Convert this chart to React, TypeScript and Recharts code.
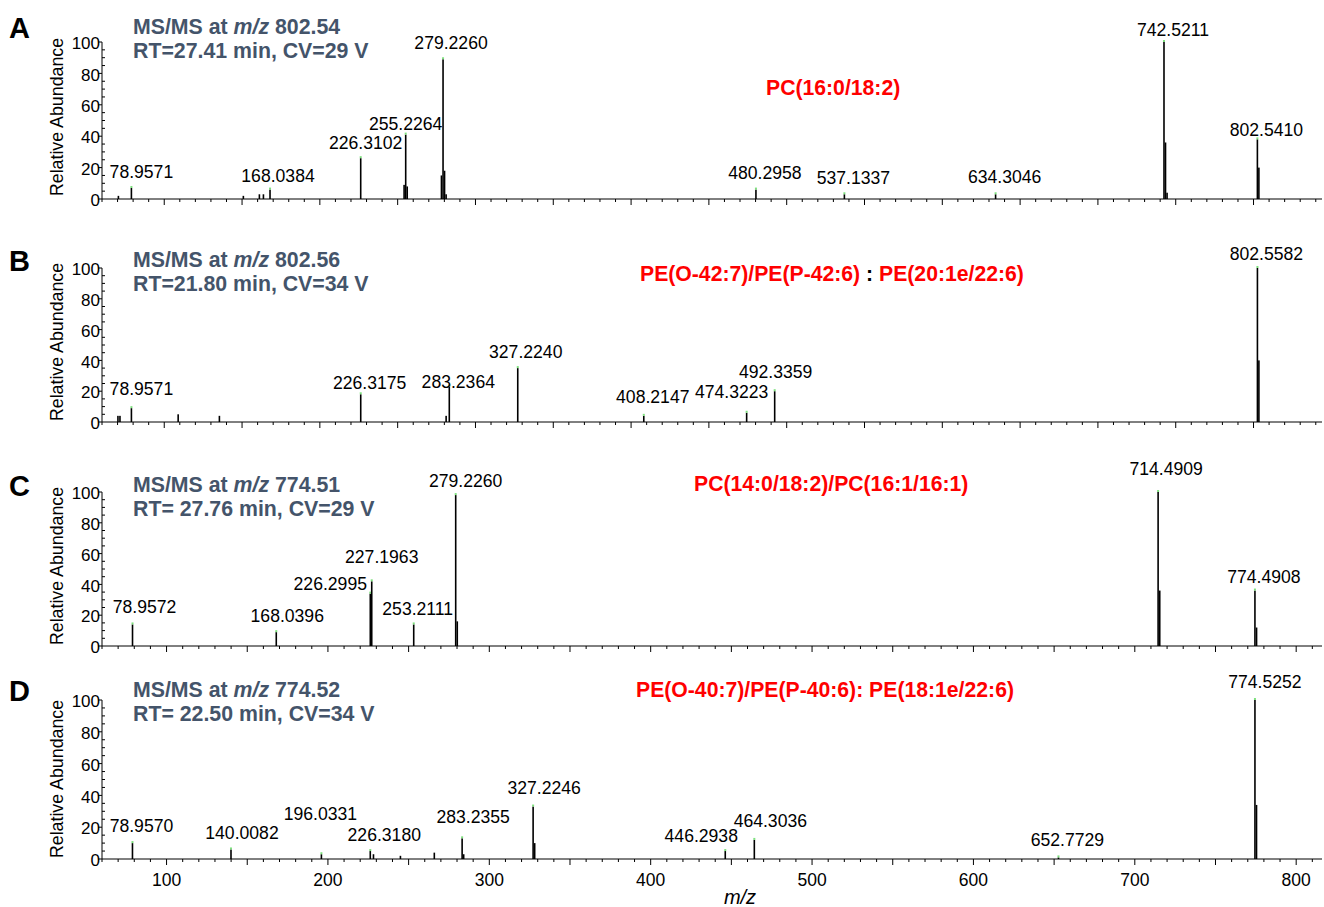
import React from 'react'
import { BarChart, Bar, XAxis, YAxis } from 'recharts'

// MS/MS spectra, each peak is [m/z, relative abundance]
const peaksA: [number, number][] = [
    [70.6, 2], [78.9571, 7], [150.9, 2], [161.2, 3], [163.8, 3], [168.0384, 6],
    [226.3102, 26], [254.2, 9], [255.2264, 41], [256.2, 8],
    [278.2, 15], [279.2260, 89], [280.2, 18], [281.2, 3],
    [480.2958, 6], [537.1337, 3], [634.3046, 3],
    [742.5211, 100], [743.5, 36], [744.5, 4], [802.5410, 38], [803.5, 20],
]
const labelsA = [78.9571, 168.0384, 226.3102, 255.2264, 279.2260, 480.2958, 537.1337, 634.3046, 742.5211, 802.5410]

const peaksB: [number, number][] = [
    [70.3, 4], [71.6, 4], [78.9571, 9], [109.0, 5], [135.5, 4],
    [226.3175, 18], [281.2, 4], [283.2364, 23], [327.2240, 35],
    [408.2147, 4], [474.3223, 6], [492.3359, 20],
    [802.5582, 100], [803.5, 40],
]
const labelsB = [78.9571, 226.3175, 283.2364, 327.2240, 408.2147, 474.3223, 492.3359, 802.5582]

const peaksC: [number, number][] = [
    [78.9572, 14], [168.0396, 9], [226.2995, 34], [227.1963, 42], [253.2111, 14],
    [279.2260, 98], [280.2, 16], [714.4909, 100], [715.5, 36],
    [774.4908, 36], [775.5, 12],
]
const labelsC = [78.9572, 168.0396, 226.2995, 227.1963, 253.2111, 279.2260, 714.4909, 774.4908]

const peaksD: [number, number][] = [
    [78.9570, 10], [140.0082, 6], [196.0331, 3], [226.3180, 5], [228.3, 3],
    [245.0, 2], [266.0, 4], [283.2355, 13], [284.2, 3],
    [327.2246, 33], [328.2, 10], [446.2938, 5], [464.3036, 12],
    [652.7729, 1], [774.5252, 100], [775.5, 34],
]
const labelsD = [78.9570, 140.0082, 196.0331, 226.3180, 283.2355, 327.2246, 446.2938, 464.3036, 652.7729, 774.5252]

// label placement: [dx from peak, gap above peak top]
const nudgeA: Record<string, [number, number]> = {
    '78.9571': [10, 10], '168.0384': [8, 8], '226.3102': [5, 9], '255.2264': [0, 5],
    '279.226': [8, 10], '480.2958': [9, 11], '537.1337': [9, 10], '634.3046': [9, 11],
    '742.5211': [9, 6], '802.541': [9, 3],
}
const nudgeB: Record<string, [number, number]> = {
    '78.9571': [10, 13], '226.3175': [9, 5], '283.2364': [9, -1], '327.224': [8, 10],
    '408.2147': [9, 13], '474.3223': [-15, 15], '492.3359': [1, 13], '802.5582': [9, 8],
}
const nudgeC: Record<string, [number, number]> = {
    '78.9572': [12, 11], '168.0396': [11, 10], '226.2995': [-40, 4], '227.1963': [10, 18],
    '253.2111': [4, 9], '279.226': [10, 8], '714.4909': [8, 17], '774.4908': [9, 8],
}
const nudgeD: Record<string, [number, number]> = {
    '78.957': [9, 11], '140.0082': [11, 10], '196.0331': [-1, 34], '226.318': [14, 10],
    '283.2355': [11, 15], '327.2246': [11, 13], '446.2938': [-24, 9], '464.3036': [16, 13],
    '652.7729': [9, 11], '774.5252': [10, 12],
}

const yTicks = [0, 5, 10, 15, 20, 25, 30, 35, 40, 45, 50, 55, 60, 65, 70, 75, 80, 85, 90, 95, 100]

const FONT = '"Liberation Sans", Arial, Helvetica, sans-serif'
const SLATE = '#44546a'
const RED = '#ff0000'

const XTick = ({ x, y, payload, showLabel }: any) => {
    const v = payload.value
    const major = v % 50 === 0
    return (
        <g>
            <line x1={x} x2={x} y1={y} y2={y + (major ? 6 : 3)} stroke="#000" strokeWidth={1} />
            {showLabel && v % 100 === 0 && (
                <text x={x} y={y + 27} textAnchor="middle" fontSize={17.5} fontFamily={FONT} fill="#000">{v}</text>
            )}
        </g>
    )
}

const YTick = ({ x, y, payload }: any) => {
    const v = payload.value
    const major = v % 20 === 0
    return (
        <g>
            {major
                ? <line x1={x - 4} x2={x} y1={y} y2={y} stroke="#000" />
                : <line x1={x} x2={x + 3} y1={y} y2={y} stroke="#000" />}
            {major && (
                <text x={x - 2} y={y} dy="0.42em" textAnchor="end" fontSize={17} fontFamily={FONT} fill="#000">{v}</text>
            )}
        </g>
    )
}

function makeShape(labels: number[], nudge: Record<string, [number, number]>) {
    return (p: any) => {
        const d = p.payload ?? p
        const cx = p.x + p.width / 2
        const tagged = labels.includes(d.mz)
        const n = nudge[String(d.mz)] ?? [9, 9]
        return (
            <g>
                <rect x={cx - 0.8} y={p.y} width={1.6} height={Math.max(p.height, 1)} fill="#000" />
                {tagged && <rect x={cx - 1} y={p.y - 2} width={2} height={2} fill="#7ee07e" />}
                {tagged && (
                    <text x={cx + n[0]} y={p.y - n[1]} textAnchor="middle" fontSize={17.6} fontFamily={FONT} fill="#000">
                        {d.mz.toFixed(4)}
                    </text>
                )}
            </g>
        )
    }
}

interface PanelProps {
    peaks: [number, number][]
    labels: number[]
    nudge: Record<string, [number, number]>
    domain: [number, number]
    top: number
    plotH: number
    bottomAxis?: boolean
}

function Spectrum({ peaks, labels, nudge, domain, top, plotH, bottomAxis = false }: PanelProps) {
    const rows = peaks.map(([mz, ab]) => ({ mz, ab }))
    const xTicks: number[] = []
    for (let t = Math.ceil(domain[0] / 10) * 10; t <= domain[1]; t += 10) xTicks.push(t)
    const xh = bottomAxis ? 48 : 12
    return (
        <div style={{ position: 'absolute', left: 0, top }}>
            <BarChart width={1324} height={40 + plotH + xh} data={rows} margin={{ top: 40, right: 2, bottom: 0, left: 0 }}>
                <XAxis
                    type="number"
                    dataKey="mz"
                    domain={domain}
                    ticks={xTicks}
                    interval={0}
                    tickSize={0}
                    tickMargin={0}
                    tickLine={false}
                    axisLine={{ stroke: '#000' }}
                    height={xh}
                    tick={<XTick showLabel={bottomAxis} />}
                />
                <YAxis
                    type="number"
                    domain={[0, 100]}
                    ticks={yTicks}
                    interval={0}
                    tickSize={0}
                    tickMargin={0}
                    tickLine={false}
                    axisLine={{ stroke: '#000' }}
                    width={102}
                    tick={<YTick />}
                />
                <Bar dataKey="ab" isAnimationActive={false} shape={makeShape(labels, nudge)} />
            </BarChart>
        </div>
    )
}

function Header({ letter, mz, rt, y0, yLabel }: { letter: string; mz: string; rt: string; y0: number; yLabel: number }) {
    return (
        <g fontFamily={FONT}>
            <text x={9} y={y0 + 4} fontSize={29} fontWeight="bold" fill="#000">{letter}</text>
            <text x={133} y={y0} fontSize={21.3} fontWeight="bold" fill={SLATE}>
                MS/MS at <tspan fontStyle="italic">m/z</tspan> {mz}
            </text>
            <text x={133} y={y0 + 24} fontSize={21.3} fontWeight="bold" fill={SLATE}>{rt}</text>
            <text x={0} y={0} transform={`translate(63, ${yLabel}) rotate(-90)`} textAnchor="middle" fontSize={17.8} fill="#000">
                Relative Abundance
            </text>
        </g>
    )
}

export default function App() {
    return (
        <div style={{ position: 'absolute', left: 0, top: 0, width: 1324, height: 907, background: '#fff' }}>
            <Spectrum peaks={peaksA} labels={labelsA} nudge={nudgeA} domain={[60, 844]} top={2} plotH={157} />
            <Spectrum peaks={peaksB} labels={labelsB} nudge={nudgeB} domain={[60, 844]} top={228} plotH={154} />
            <Spectrum peaks={peaksC} labels={labelsC} nudge={nudgeC} domain={[60, 816]} top={452} plotH={154} />
            <Spectrum peaks={peaksD} labels={labelsD} nudge={nudgeD} domain={[60, 816]} top={660} plotH={159} bottomAxis />
            <svg width={1324} height={907} style={{ position: 'absolute', left: 0, top: 0, pointerEvents: 'none' }}>
                <Header letter="A" mz="802.54" rt="RT=27.41 min, CV=29 V" y0={34} yLabel={117} />
                <Header letter="B" mz="802.56" rt="RT=21.80 min, CV=34 V" y0={267} yLabel={342} />
                <Header letter="C" mz="774.51" rt="RT= 27.76 min, CV=29 V" y0={492} yLabel={566} />
                <Header letter="D" mz="774.52" rt="RT= 22.50 min, CV=34 V" y0={697} yLabel={779} />
                <g fontFamily={FONT} fontSize={21.2} fontWeight="bold" fill={RED}>
                    <text x={766} y={95}>PC(16:0/18:2)</text>
                    <text x={640} y={281}>
                        PE(O-42:7)/PE(P-42:6)<tspan fill="#000"> : </tspan>PE(20:1e/22:6)
                    </text>
                    <text x={694} y={491}>PC(14:0/18:2)/PC(16:1/16:1)</text>
                    <text x={636} y={697}>PE(O-40:7)/PE(P-40:6): PE(18:1e/22:6)</text>
                </g>
                <text x={740} y={904} textAnchor="middle" fontSize={20} fontStyle="italic" fontFamily={FONT} fill="#000">m/z</text>
            </svg>
        </div>
    )
}
